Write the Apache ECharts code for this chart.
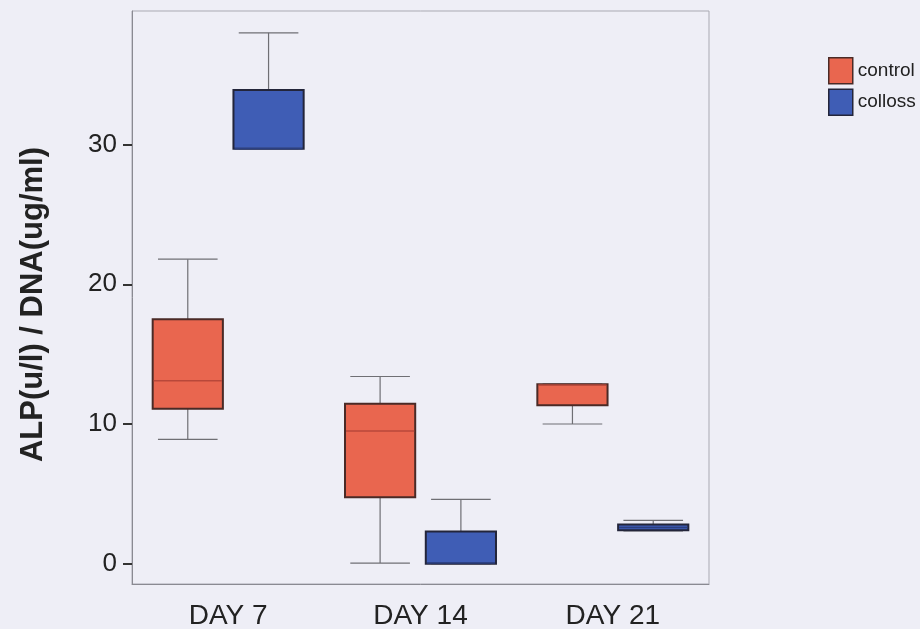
<!DOCTYPE html>
<html>
<head>
<meta charset="utf-8">
<script src="https://cdn.jsdelivr.net/npm/echarts@6/dist/echarts.min.js"></script>
<style>
html,body{margin:0;padding:0;background:#eeeef6;}
#c{width:920px;height:629px;}
</style>
</head>
<body>
<div id="c"></div>
<script>
// categories and tick labels
const categories = ['DAY 7', 'DAY 14', 'DAY 21'];
const yTicks = [0, 10, 20, 30];
const seriesNames = ['control', 'colloss'];
// [min, Q1, median, Q3, max] per day
const controlStats = [
  [8.9, 11.1, 13.1, 17.5, 21.8],
  [0.05, 4.75, 9.5, 11.45, 13.4],
  [10.0, 11.35, 12.8, 12.85, 12.85]
];
const collossStats = [
  [29.7, 29.7, 29.7, 33.9, 38.0],
  [0.0, 0.0, 0.05, 2.3, 4.6],
  [2.35, 2.4, 2.6, 2.8, 3.1]
];

const fills = ['#e9664f', '#3f5db5'];
const borders = ['#4a2a26', '#23253a'];
const medians = ['#b9483a', '#2b3f80'];

function makeRender(sIdx) {
  return function (params, api) {
    const cat = api.value(0);
    const band = api.size([1, 0])[0];
    const off = (sIdx === 0 ? -1 : 1) * band * 0.21;
    const bw = band * 0.365;
    const cw = band * 0.155;
    const pMin = api.coord([cat, api.value(1)]);
    const pQ1 = api.coord([cat, api.value(2)]);
    const pMed = api.coord([cat, api.value(3)]);
    const pQ3 = api.coord([cat, api.value(4)]);
    const pMax = api.coord([cat, api.value(5)]);
    const cx = pMin[0] + off;
    const wStyle = { stroke: '#6f6f74', lineWidth: 1.2 };
    return {
      type: 'group',
      children: [
        { type: 'line', shape: { x1: cx, y1: pQ3[1], x2: cx, y2: pMax[1] }, style: wStyle },
        { type: 'line', shape: { x1: cx, y1: pMin[1], x2: cx, y2: pQ1[1] }, style: wStyle },
        { type: 'line', shape: { x1: cx - cw, y1: pMax[1], x2: cx + cw, y2: pMax[1] }, style: wStyle },
        { type: 'line', shape: { x1: cx - cw, y1: pMin[1], x2: cx + cw, y2: pMin[1] }, style: wStyle },
        { type: 'rect', shape: { x: cx - bw / 2, y: pQ3[1], width: bw, height: pQ1[1] - pQ3[1] },
          style: { fill: fills[sIdx], stroke: borders[sIdx], lineWidth: 2 } },
        { type: 'line', shape: { x1: cx - bw / 2 + 1, y1: pMed[1], x2: cx + bw / 2 - 1, y2: pMed[1] },
          style: { stroke: medians[sIdx], lineWidth: 1.5 } }
      ]
    };
  };
}

function toData(stats) {
  return stats.map((s, i) => [i].concat(s));
}

const chart = echarts.init(document.getElementById('c'), null, { renderer: 'canvas' });
chart.setOption({
  backgroundColor: '#eeeef6',
  animation: false,
  textStyle: { fontFamily: '"Liberation Sans", Arial, sans-serif' },
  grid: { left: 132, top: 11, right: 211, bottom: 45, outerBoundsMode: 'none', containLabel: false,
          show: true, borderColor: '#a9a9b2', borderWidth: 1 },
  legend: {
    orient: 'vertical', left: 828, top: 57, padding: 0,
    itemWidth: 24, itemHeight: 26, itemGap: 4,
    icon: 'rect',
    textStyle: { fontSize: 19, color: '#222' },
    data: seriesNames.map((n, i) => ({ name: n, itemStyle: { color: fills[i], borderColor: borders[i], borderWidth: 1.5 } }))
  },
  xAxis: {
    type: 'category', data: categories, boundaryGap: true,
    axisLine: { onZero: false, lineStyle: { color: '#8a8a92', width: 1 } },
    axisTick: { alignWithLabel: true, length: 10, lineStyle: { color: '#333', width: 2 } },
    axisLabel: { fontSize: 28, color: '#222', margin: 18 }
  },
  yAxis: {
    type: 'value', min: -1.45, max: 39.56,
    name: 'ALP(u/l) / DNA(ug/ml)', nameLocation: 'middle', nameGap: 83,
    nameTextStyle: { fontSize: 31, fontWeight: 'bold', color: '#222', padding: [0, 14, 0, 0] },
    axisLine: { show: true, lineStyle: { color: '#8a8a92', width: 1 } },
    axisTick: { show: true, length: 9, customValues: yTicks, lineStyle: { color: '#333', width: 2 } },
    axisLabel: { fontSize: 26, color: '#222', margin: 15, customValues: yTicks },
    splitLine: { show: false }
  },
  series: [
    { name: seriesNames[0], type: 'custom', renderItem: makeRender(0), itemStyle: { color: fills[0] },
      encode: { x: 0, y: [1, 2, 3, 4, 5] }, data: toData(controlStats) },
    { name: seriesNames[1], type: 'custom', renderItem: makeRender(1), itemStyle: { color: fills[1] },
      encode: { x: 0, y: [1, 2, 3, 4, 5] }, data: toData(collossStats) }
  ]
});
</script>
</body>
</html>
